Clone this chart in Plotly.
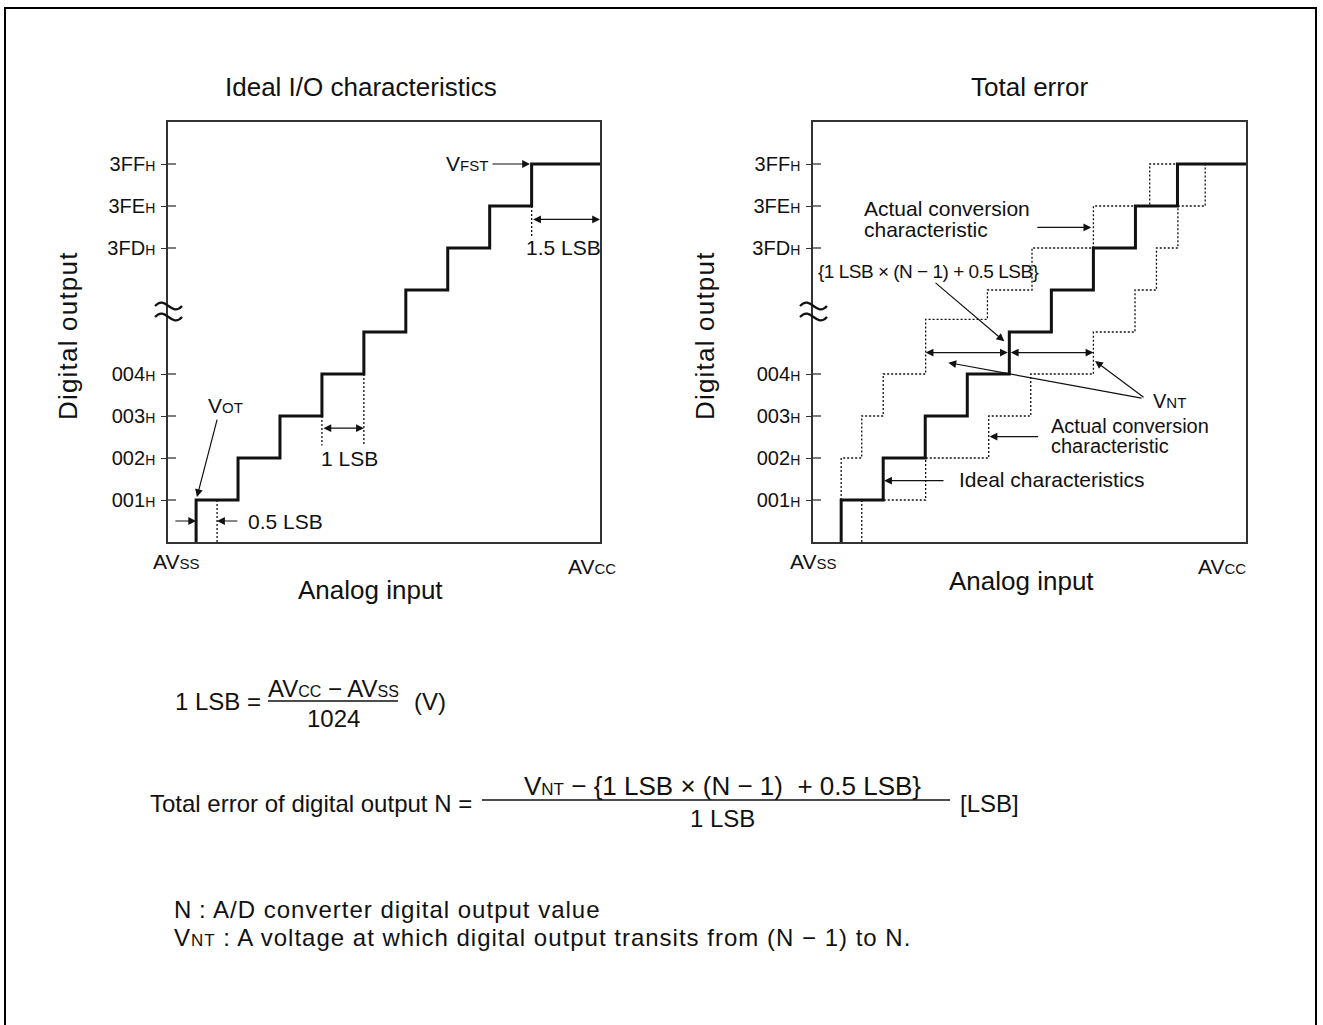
import plotly.graph_objects as go

W, H = 1323, 1025
FONT = "Liberation Sans, Arial, Helvetica, sans-serif"
INK = "#111111"

# ---------------- data (x: analog input in LSB from AVSS, y: output code level) -------------
x_range = [0, 10.3]
y_range = [0, 10]
tick_levels = [1, 2, 3, 4, 7, 8, 9]
tick_codes = ["001", "002", "003", "004", "3FD", "3FE", "3FF"]

ideal_x = [0.67, 0.67, 1.67, 2.67, 3.67, 4.67, 5.67, 6.67, 7.67, 8.67, 10.3]
ideal_y = [0, 1, 2, 3, 4, 5, 6, 7, 8, 9, 9]

early_x = [0.67, 1.16, 1.67, 2.68, 4.15, 5.21, 6.67, 8.01, 8.68]
early_y = [1, 2, 3, 4, 5.3, 6, 7, 8, 9]

late_x = [1.16, 2.68, 4.18, 5.18, 6.67, 7.66, 8.17, 8.68, 9.33, 9.33]
late_y = [0, 1, 2, 3, 4, 5, 6, 7, 8, 9]

guide_x = [1.17, 1.17, None, 3.67, 3.67, None, 4.67, 4.67, None, 8.67, 8.67]
guide_y = [0, 1, None, 3, 2.3, None, 4, 2.3, None, 8, 7.27]


def small(t, s=15, ls=0):
    extra = f";letter-spacing:{ls}px" if ls else ""
    return f"<span style='font-size:{s}px{extra}'>{t}</span>"


def spaced(t, ls):
    return f"<span style='letter-spacing:{ls}px'>{t}</span>"


def PX(x):
    return x / W


def PY(y):
    return 1 - y / H


fig = go.Figure()

# ---------------- traces ----------------
thick = dict(color=INK, width=3)
dotted = dict(color=INK, width=1.3, dash="2px,2px")

fig.add_trace(go.Scatter(x=ideal_x, y=ideal_y, mode="lines", line=dict(shape="hv", **thick),
                         xaxis="x", yaxis="y", hoverinfo="skip"))
fig.add_trace(go.Scatter(x=guide_x, y=guide_y, mode="lines", line=dotted,
                         xaxis="x", yaxis="y", hoverinfo="skip"))

fig.add_trace(go.Scatter(x=early_x, y=early_y, mode="lines", line=dict(shape="vh", **dotted),
                         xaxis="x2", yaxis="y2", hoverinfo="skip"))
fig.add_trace(go.Scatter(x=late_x, y=late_y, mode="lines", line=dict(shape="vh", **dotted),
                         xaxis="x2", yaxis="y2", hoverinfo="skip"))
fig.add_trace(go.Scatter(x=ideal_x, y=ideal_y, mode="lines", line=dict(shape="hv", **thick),
                         xaxis="x2", yaxis="y2", hoverinfo="skip"))

# inner part of the tick marks (ticks cross the axis)
tin_x, tin_y = [], []
for lv in tick_levels:
    tin_x += [0, 0.19, None]
    tin_y += [lv, lv, None]
for xa_, ya_ in (("x", "y"), ("x2", "y2")):
    fig.add_trace(go.Scatter(x=tin_x, y=tin_y, mode="lines", line=dict(color="#333", width=1.3),
                             xaxis=xa_, yaxis=ya_, hoverinfo="skip"))

# ---------------- axes ----------------
tick_text = [c + small("H", 14) for c in tick_codes]
box = dict(showline=True, mirror=True, linecolor="#333", linewidth=1.5,
           showgrid=False, zeroline=False, fixedrange=True)
xa = dict(range=x_range, showticklabels=False, ticks="", **box)
ya = dict(range=y_range, tickvals=tick_levels, ticktext=tick_text, ticks="outside",
          ticklen=5, tickwidth=1.3, tickcolor="#333", ticklabelstandoff=2,
          tickfont=dict(family=FONT, size=20, color=INK), **box)

ytop, ybot = 122, 542
LEFT_AX, RIGHT_AX = 168, 813
fig.update_layout(
    xaxis=dict(domain=[PX(LEFT_AX), PX(600)], anchor="y", **xa),
    yaxis=dict(domain=[PY(ybot), PY(ytop)], anchor="x", **ya),
    xaxis2=dict(domain=[PX(RIGHT_AX), PX(1246)], anchor="y2", **xa),
    yaxis2=dict(domain=[PY(ybot), PY(ytop)], anchor="x2", **ya),
)

ann = []


def txt(text, x, y, xref="paper", yref="paper", size=21, xanchor="center", yanchor="middle",
        align="center", angle=0):
    ann.append(dict(text=text, x=x, y=y, xref=xref, yref=yref, showarrow=False,
                    font=dict(family=FONT, size=size, color=INK), xanchor=xanchor,
                    yanchor=yanchor, align=align, textangle=angle))


def arrow(x0, y0, x1, y1, xr, yr, both=False):
    ann.append(dict(text="", x=x1, y=y1, ax=x0, ay=y0, xref=xr, yref=yr, axref=xr, ayref=yr,
                    showarrow=True, arrowhead=2, arrowsize=1.3, arrowwidth=1.2,
                    arrowcolor=INK, standoff=0, startstandoff=0,
                    arrowside="end+start" if both else "end", startarrowhead=2,
                    startarrowsize=1.3))


# titles / axis labels
txt("Ideal I/O characteristics", PX(361), PY(87), size=26)
txt("Total error", PX(1029), PY(87), size=26)
txt(spaced("Digital output", 1.2), PX(68), PY(336), size=26, angle=-90)
txt(spaced("Digital output", 1.2), PX(705), PY(336), size=26, angle=-90)
txt("Analog input", PX(370), PY(590), size=26)
txt("Analog input", PX(1021), PY(581), size=26)
txt("AV" + small("SS"), PX(176), PY(561))
txt("AV" + small("CC"), PX(592), PY(566))
txt("AV" + small("SS"), PX(813), PY(561))
txt("AV" + small("CC"), PX(1222), PY(566))

# ---- left chart annotations
txt("V" + small("OT"), 1.38, 3.24, "x", "y")
arrow(1.18, 2.95, 0.69, 1.07, "x", "y")
arrow(0.14, 0.5, 0.67, 0.5, "x", "y")
arrow(1.69, 0.5, 1.17, 0.5, "x", "y")
txt("0.5 LSB", 1.85, 0.5, "x", "y", xanchor="left")
arrow(3.67, 2.71, 4.67, 2.71, "x", "y", both=True)
txt("1 LSB", 4.33, 2.0, "x", "y")
txt("V" + small("FST"), 7.12, 9.02, "x", "y")
arrow(7.7, 9.0, 8.63, 9.0, "x", "y")
arrow(8.67, 7.68, 10.3, 7.68, "x", "y", both=True)
txt("1.5 LSB", 9.43, 7.02, "x", "y")

# ---- right chart annotations
txt("Actual conversion", 1.17, 7.93, "x2", "y2", xanchor="left")
txt("characteristic", 1.17, 7.45, "x2", "y2", xanchor="left")
arrow(5.3, 7.49, 6.62, 7.49, "x2", "y2")
txt(spaced("{1 LSB × (N − 1) + 0.5 LSB}", -0.5), 0.07, 6.43, "x2", "y2", size=19, xanchor="left")
arrow(2.88, 6.2, 4.55, 4.78, "x2", "y2")
arrow(4.67, 4.51, 2.68, 4.51, "x2", "y2", both=True)
arrow(4.67, 4.51, 6.67, 4.51, "x2", "y2", both=True)
arrow(7.85, 3.42, 3.22, 4.27, "x2", "y2")
arrow(7.9, 3.42, 6.71, 4.31, "x2", "y2")
txt("V" + small("NT"), 8.48, 3.36, "x2", "y2", size=20)
txt("Actual conversion", 5.62, 2.76, "x2", "y2", xanchor="left", size=20)
txt("characteristic", 5.62, 2.29, "x2", "y2", xanchor="left", size=20)
arrow(5.39, 2.51, 4.2, 2.51, "x2", "y2")
txt("Ideal characteristics", 3.42, 1.5, "x2", "y2", xanchor="left")
arrow(3.14, 1.46, 1.69, 1.46, "x2", "y2")

# ---- formulas
FS = 24
NB = "\u00a0"
txt("1 LSB =", PX(263), PY(701), size=FS, xanchor="right")
txt("AV" + small("CC", 16) + " − AV" + small("SS", 16), PX(333), PY(688), size=FS)
txt("1024", PX(333), PY(718), size=FS)
txt("(V)", PX(412), PY(701), size=FS, xanchor="left")

txt("Total error of digital output N =", PX(474), PY(803), size=FS, xanchor="right")
txt("V" + small("NT", 17) + " − {1 LSB × (N − 1)" + NB + NB + "+ 0.5 LSB}", PX(722), PY(786), size=26)
txt("1 LSB", PX(722), PY(818), size=FS)
txt("[LSB]", PX(958), PY(803), size=FS, xanchor="left")

LS = 1.0
txt(spaced("N", LS), PX(172), PY(909), size=24, xanchor="left")
txt(spaced(": A/D converter digital output value", LS), PX(197), PY(909), size=24, xanchor="left")
txt(spaced("V", LS) + small("NT", 17, LS) +
    spaced(" : A voltage at which digital output transits from (N − 1) to N.", LS),
    PX(172), PY(937), size=24, xanchor="left")

# ---------------- decorations: fraction bars, axis-break marks, outer frame ----------------
line_k = dict(color=INK, width=1.5)
shapes = [
    dict(type="line", xref="paper", yref="paper", x0=PX(268), x1=PX(398), y0=PY(701), y1=PY(701),
         line=line_k),
    dict(type="line", xref="paper", yref="paper", x0=PX(482), x1=PX(950), y0=PY(800), y1=PY(800),
         line=line_k),
    dict(type="rect", xref="paper", yref="paper", x0=PX(5), x1=PX(1316), y0=-0.02, y1=PY(8),
         line=dict(color="#000", width=2)),
]
for ax_px in (LEFT_AX, RIGHT_AX):
    for y0 in (306, 317):
        x0, x1 = ax_px - 13, ax_px + 14
        w = x1 - x0
        path = (f"M {PX(x0):.5f},{PY(y0):.5f} "
                f"C {PX(x0 + 0.4 * w):.5f},{PY(y0 - 12):.5f} "
                f"{PX(x0 + 0.6 * w):.5f},{PY(y0 + 12):.5f} "
                f"{PX(x1):.5f},{PY(y0):.5f}")
        shapes.append(dict(type="path", xref="paper", yref="paper", path=path,
                           line=dict(color=INK, width=2.2)))

fig.update_layout(
    width=W, height=H, margin=dict(l=0, r=0, t=0, b=0),
    paper_bgcolor="white", plot_bgcolor="rgba(0,0,0,0)",
    showlegend=False, annotations=ann, shapes=shapes,
    font=dict(family=FONT, color=INK),
)

fig.write_html("out.html", config={"displayModeBar": False},
               post_script="document.body.style.margin='0px';")
